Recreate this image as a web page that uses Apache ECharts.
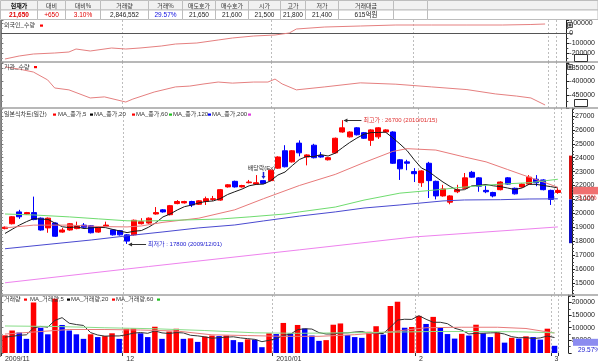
<!DOCTYPE html>
<html>
<head>
<meta charset="utf-8">
<script src="https://cdn.jsdelivr.net/npm/echarts@6.0.0/dist/echarts.min.js"></script>
<style>
html,body{margin:0;padding:0;background:#ffffff;overflow:hidden}
#chart{width:598px;height:363px}
</style>
</head>
<body>
<div id="chart"></div>
<script>
// ---------------- data ----------------
const dates = ['2009/11/06','2009/11/09','2009/11/10','2009/11/11','2009/11/12','2009/11/13','2009/11/16','2009/11/17','2009/11/18','2009/11/19','2009/11/20','2009/11/23','2009/11/24','2009/11/25','2009/11/26','2009/11/27','2009/11/30',
'2009/12/01','2009/12/02','2009/12/03','2009/12/04','2009/12/07','2009/12/08','2009/12/09','2009/12/10','2009/12/11','2009/12/14','2009/12/15','2009/12/16','2009/12/17','2009/12/18','2009/12/21','2009/12/22','2009/12/23','2009/12/24','2009/12/28','2009/12/29','2009/12/30',
'2010/01/04','2010/01/05','2010/01/06','2010/01/07','2010/01/08','2010/01/11','2010/01/12','2010/01/13','2010/01/14','2010/01/15','2010/01/18','2010/01/19','2010/01/20','2010/01/21','2010/01/22','2010/01/25','2010/01/26','2010/01/27','2010/01/28','2010/01/29',
'2010/02/01','2010/02/02','2010/02/03','2010/02/04','2010/02/05','2010/02/08','2010/02/09','2010/02/10','2010/02/11','2010/02/12','2010/02/16','2010/02/17','2010/02/18','2010/02/19','2010/02/22','2010/02/23','2010/02/24','2010/02/25','2010/02/26',
'2010/03/02'];
const openP  = [18900,19250,20100,19950,20050,19650,18950,19300,18650,18800,18900,19150,19100,18650,19050,18800,18750,18450,18450,19250,19300,19950,20250,19900,20700,20750,20850,20650,20850,21000,20950,21900,22300,21900,22200,22100,22350,22350,23250,24500,23700,25050,24050,24900,24150,23850,24350,25850,25500,26150,25800,25250,25500,25850,25850,23850,23700,23000,22200,23600,22300,21250,20800,21550,21800,22950,22550,21650,21500,21700,22550,21800,21900,22100,22450,22400,21650,21500];
const highP  = [19050,19800,20250,20100,21200,19700,19700,19350,18950,19300,19400,19300,19150,19050,19400,18850,18800,18500,19550,19650,19700,20450,20300,20600,20950,20900,20900,20950,21200,21250,21750,22100,22350,22050,22400,22750,22400,23150,24100,24900,24550,25250,24250,25000,24400,24050,25450,26700,25900,26200,25850,26050,26200,26050,25900,23900,23850,23250,23100,23700,22350,22050,21300,22050,22900,23050,22600,22000,21550,22300,22600,21850,22150,22750,22750,22450,21700,21800];
const lowP   = [18850,19200,19600,19900,19500,18750,18600,18300,18600,18750,18850,18950,18550,18600,19000,18400,18400,17800,18400,19200,19250,19900,20050,19850,20650,20700,20450,20600,20600,20900,20900,21850,21850,21850,22150,22050,22100,22300,23200,23300,23650,24100,23450,23950,24000,23800,24300,25800,25450,25600,25350,24850,25350,25800,23550,22400,23100,22250,21900,21100,21000,21200,20650,21450,21750,22550,21550,21450,21150,21650,22050,21350,21850,22050,21950,21650,20600,21400];
const closeP = [19000,19750,19750,20050,19550,18800,19650,18350,18800,19250,19100,19000,18600,19000,19150,18450,18450,18000,19500,19400,19650,20050,20100,20550,20850,20850,20600,20900,21050,21050,21700,22050,21900,22000,22250,22200,22150,23100,24050,23350,24500,24350,24200,24000,24050,24000,25400,26150,25850,25650,25400,26000,26150,26000,23600,23200,23600,22850,23050,22350,21250,21750,21250,21700,22550,22600,21950,21550,21250,22250,22100,21400,22100,22600,22200,21700,21000,21650];
const ma5 = [18550,18850,19150,19400,19620,19580,19560,19280,19030,18970,19030,18900,18950,18990,18970,18840,18730,18610,18710,18760,19000,19320,19740,19950,20240,20480,20590,20750,20850,20890,21060,21350,21550,21740,21980,22080,22100,22340,22750,22970,23430,23870,24090,24080,24220,24120,24330,24720,25090,25410,25690,25810,25810,25840,25430,24990,24510,23850,23260,23010,22620,22250,21930,21660,21700,21970,22010,22070,21980,21920,21820,21710,21820,22090,22080,22000,21920,21830];
const ma20  = [[0,18950],[4,19150],[9,19150],[13,19050],[17,19020],[19,19090],[22,19350],[27,19650],[32,20250],[36,21050],[41,22000],[46,22800],[50,23650],[54,24450],[56,24650],[60,24550],[64,24050],[67,23700],[70,23150],[73,22600],[75,22250],[77,21870]];
const ma60  = [[0,19950],[4,19880],[9,19740],[13,19600],[17,19460],[20,19450],[25,19520],[30,19590],[34,19740],[39,19950],[41,20100],[46,20450],[50,20950],[55,21450],[60,21680],[64,21890],[69,22100],[73,22200],[77,22450]];
const ma120 = [[0,17450],[12,18080],[18,18440],[22,18660],[27,18950],[32,19160],[36,19450],[41,19800],[46,20100],[50,20380],[55,20600],[61,20890],[64,20960],[69,20980],[73,21030],[77,21040]];
const ma200 = [[0,15000],[20,16170],[41,17370],[57,18300],[71,18800],[77,19020]];
const volume = [7000000,8900000,8100000,5600000,20000000,10000000,7400000,21500000,11100000,8900000,
 7400000,5600000,7400000,6300000,6700000,7800000,5600000,9600000,9700000,7800000,
 6300000,10400000,5600000,8500000,9600000,5600000,5800000,4400000,6500000,6900000,
 6700000,6900000,5100000,4300000,5400000,5300000,2300000,7800000,7500000,11900000,
 7800000,11100000,9700000,6900000,4800000,5100000,11200000,11700000,7100000,6300000,
 6000000,8400000,10600000,7300000,18600000,20300000,10000000,10300000,14700000,11500000,
 14300000,10000000,7500000,5700000,7600000,6900000,11200000,7800000,6300000,8100000,
 4100000,6000000,5700000,6600000,6300000,5300000,9626000,2846552];
const volMa5 = [6300000,6600000,7000000,7200000,9920000,10520000,10220000,12900000,14000000,11780000,11260000,10900000,8080000,7120000,6680000,6760000,6760000,7200000,7880000,8100000,7800000,8760000,7960000,7720000,8080000,7940000,7020000,6780000,6380000,5840000,6060000,6280000,6420000,5980000,5680000,5400000,4480000,5020000,5660000,6960000,7460000,9220000,9600000,9480000,8060000,7520000,7540000,7940000,7980000,8280000,8460000,7900000,7680000,7720000,10180000,13040000,13360000,13300000,14780000,13360000,12160000,12160000,11600000,9800000,9020000,7540000,7780000,7840000,7960000,8060000,7500000,6460000,6040000,6100000,5740000,5980000,6700000,6130000];
const volMa20 = [[0,7500000],[4,8300000],[9,9300000],[14,9300000],[19,9100000],[24,8700000],[29,7200000],[34,6900000],[39,6600000],[44,6600000],[49,7250000],[54,8400000],[59,10000000],[64,10200000],[69,10200000],[73,9700000],[77,7900000]];
const volMa60 = [[0,10700000],[7,10500000],[14,10000000],[21,9600000],[28,8900000],[35,8000000],[41,7800000],[48,8000000],[55,8300000],[60,8500000],[66,8500000],[72,8400000],[77,8000000]];
const foreignQty = [[0,-260000],[2,-230000],[4,-210000],[7,-200000],[9,-190000],[10,-160000],[12,-180000],[15,-150000],[17,-160000],[19,-150000],[22,-130000],[24,-110000],[27,-100000],[30,-70000],[32,-50000],[35,-30000],[38,-20000],[40,0],[41,40000],[45,60000],[50,70000],[55,80000],[60,80000],[65,80000],[70,80000],[74,85000],[76,90000]];
const instQty = [[0,-346000],[2,-354000],[4,-365000],[6,-394000],[7,-424000],[9,-431000],[12,-461000],[14,-457000],[17,-476000],[18,-465000],[21,-439000],[24,-420000],[26,-417000],[28,-409000],[30,-402000],[32,-406000],[35,-402000],[37,-402000],[38,-391000],[39,-409000],[41,-431000],[45,-420000],[50,-405000],[55,-410000],[60,-420000],[65,-430000],[69,-446000],[72,-454000],[74,-461000],[76,-487000]];
const monthTickIdx  = [0,17,38,58,77];
const monthTickText = ['2009/11','12','2010/01','2','3'];
const quoteHeads = ['현재가','대비','대비%','거래량','거래%','매도호가','매수호가','시가','고가','저가','거래대금','',''];
const quoteVals  = ['21,650','+650','3.10%','2,846,552','29.57%','21,650','21,600','21,500','21,800','21,400','615억원','',''];
const quoteColors = ['#e00000','#e00000','#e00000','#222222','#1010e0','#222222','#222222','#222222','#222222','#222222','#222222','#222222','#222222'];
const prevClose = 21000, upperLimit = 24150, lowerLimit = 17850;
const lastPrice = 21650, lastPriceText = '21,650', lastPctText = '3.10%';
const lastVol = 2846552, lastVolText = '2,846K', lastVolPctText = '29.57%';
const highIdx = 47, highVal = 26700, highText = '최고가 : 26700 (2010/01/15)';
const lowIdx = 17, lowVal = 17800, lowText = '최저가 : 17800 (2009/12/01)';
const exDivIdx = 36, exDivVal = 22400, exDivText = '배당락(Ex)';

// ---------------- layout / style ----------------
const FONT = '"Liberation Sans", "Noto Sans CJK KR", sans-serif';
const KFONT = '"Noto Sans CJK KR", "Liberation Sans", sans-serif';
const UP = '#ff0000', DOWN = '#0000ff';
const GL = 1.41, GW = 560.04;           // grid left / width (78 categories)
const AXX = 572;                         // right axis line x
const OFF = AXX - (GL + GW);

const chart = echarts.init(document.getElementById('chart'), null, {renderer: 'canvas', width: 598, height: 363});

const isMonth = (i) => monthTickIdx.indexOf(i) >= 0;
function xAxisFor(gi, showLabel) {
  return {
    type: 'category', gridIndex: gi, data: dates, boundaryGap: true,
    axisLine: {show: false},
    axisTick: {show: showLabel, interval: (i) => isMonth(i), length: 3, lineStyle: {color: '#333'}},
    axisLabel: {show: showLabel, interval: (i) => isMonth(i), align: 'left', margin: 3, fontSize: 7, color: '#333', fontFamily: FONT,
      formatter: (v, i) => { const k = monthTickIdx.indexOf(i); return k >= 0 ? monthTickText[k] : ''; }},
    splitLine: {show: true, interval: (i) => isMonth(i) && i > 0, lineStyle: {color: '#bdbdbd', width: 1, type: [2, 2]}}
  };
}
function yRight(gi, min, max, interval, okFn, minorSplit, fmt) {
  return {
    type: 'value', gridIndex: gi, position: 'right', offset: OFF, min: min, max: max, interval: interval,
    axisLine: {show: true, lineStyle: {color: '#222', width: 1}},
    axisTick: {show: true, length: 3, lineStyle: {color: '#222'}},
    minorTick: {show: true, splitNumber: minorSplit, length: 2, lineStyle: {color: '#444'}},
    axisLabel: {show: true, fontSize: 7, color: '#222', margin: 3, fontFamily: FONT,
      formatter: (v) => okFn(v) ? (fmt ? fmt(v) : String(v)) : ''},
    splitLine: {show: false}
  };
}
function yLeft(gi, min, max, interval, minorSplit) {
  return {
    type: 'value', gridIndex: gi, position: 'left', min: min, max: max, interval: interval,
    axisLine: {show: true, lineStyle: {color: '#777', width: 1}},
    axisTick: {show: true, inside: true, length: 2, lineStyle: {color: '#777'}},
    minorTick: {show: true, splitNumber: minorSplit, length: 1.5, lineStyle: {color: '#999'}},
    axisLabel: {show: false}, splitLine: {show: false}
  };
}

const candleData = dates.map((d, i) => [openP[i], closeP[i], lowP[i], highP[i]]);
const lineS = (data, xi, color, w) => ({
  type: 'line', xAxisIndex: xi, yAxisIndex: xi, data: data, symbol: 'none', connectNulls: true,
  lineStyle: {color: color, width: w || 1}, itemStyle: {color: color}, z: 5, silent: true, animation: false
});

const option = {
  animation: false,
  backgroundColor: '#ffffff',
  textStyle: {fontFamily: FONT},
  grid: [
    {left: GL, width: GW, top: 20, height: 43},
    {left: GL, width: GW, top: 62, height: 46.5},
    {left: GL, width: GW, top: 108, height: 188.7},
    {left: GL, width: GW, top: 295, height: 62}
  ],
  xAxis: [xAxisFor(0, false), xAxisFor(1, false), xAxisFor(2, false), xAxisFor(3, true)],
  yAxis: [
    yRight(0, -300000, 130000, 100000, (v) => [100000, 0, -100000, -200000].indexOf(v) >= 0, 2),
    yRight(1, -500000, -327800, 50000, (v) => [-350000, -400000, -450000].indexOf(v) >= 0, 2),
    yRight(2, 14000, 27576, 1000, (v) => v % 1000 === 0 && v >= 15000 && v <= 27000, 4),
    yRight(3, 0, 22962963, 5000000, (v) => v > 0 && v % 5000000 === 0, 2, (v) => String(v / 100)),
    yLeft(0, -300000, 130000, 100000, 2),
    yLeft(1, -500000, -327800, 50000, 2),
    yLeft(2, 14000, 27576, 1000, 4),
    yLeft(3, 0, 22962963, 5000000, 2)
  ],
  series: [
    {type: 'candlestick', xAxisIndex: 2, yAxisIndex: 2, data: candleData, barWidth: 5.5, z: 3,
      itemStyle: {color: UP, color0: DOWN, borderColor: UP, borderColor0: DOWN, borderWidth: 1}, silent: true},
    lineS(ma5, 2, '#1a1a1a'),
    lineS(ma20, 2, '#e87a7a'),
    lineS(ma60, 2, '#6fdc6f'),
    lineS(ma120, 2, '#4a4ad0'),
    lineS(ma200, 2, '#ee82ee'),
    {type: 'bar', xAxisIndex: 3, yAxisIndex: 3, data: volume, barWidth: 5.5, z: 3, silent: true,
      itemStyle: {color: (p) => (p.dataIndex === 0 || volume[p.dataIndex] >= volume[p.dataIndex - 1]) ? UP : DOWN}},
    lineS(volMa5, 3, '#333333'),
    lineS(volMa20, 3, '#e87a7a'),
    lineS(volMa60, 3, '#88dd88'),
    lineS(foreignQty, 0, '#e58080'),
    lineS(instQty, 1, '#e58080')
  ]
};
chart.setOption(option);

// ---------------- decorations built from the axes ----------------
const P = (g, x, y) => chart.convertToPixel({xAxisIndex: g, yAxisIndex: g}, [x, y]);
function txt(x, y, text, color, size, align, family, weight) {
  return {type: 'text', x: x, y: y, z: 60, silent: true,
    style: {text: text, fill: color, fontSize: size, fontFamily: family || FONT, fontWeight: weight || 'normal',
      align: align || 'left', verticalAlign: 'middle', textAlign: align || 'left', textVerticalAlign: 'middle'}};
}
function rect(x, y, w, h, fill, stroke, lw, z) {
  return {type: 'rect', z: z || 50, silent: true, shape: {x: x, y: y, width: w, height: h},
    style: {fill: fill || 'none', stroke: stroke || 'none', lineWidth: lw || 1}};
}
function seg(x1, y1, x2, y2, color, lw, z) {
  return {type: 'line', z: z || 55, silent: true, shape: {x1: x1, y1: y1, x2: x2, y2: y2}, style: {stroke: color, lineWidth: lw || 1}};
}
function tri(points, fill) { return {type: 'polygon', z: 56, silent: true, shape: {points: points}, style: {fill: fill}}; }

const G = [];
// quote table
const colEdges = [0, 37, 65, 100, 148, 182, 215, 248, 280, 305, 338, 393, 427, 597.5];
for (let i = 0; i < quoteHeads.length; i++) {
  const x0 = colEdges[i] + 0.5, w = colEdges[i + 1] - colEdges[i];
  G.push(rect(x0, 0.5, w, 9.5, '#f1f1f1', '#bdbdbd', 1, 40));
  G.push(rect(x0, 10, w, 9.5, '#ffffff', '#bdbdbd', 1, 40));
  const cx = x0 + w / 2;
  if (quoteHeads[i]) G.push(txt(cx, 5.5, quoteHeads[i], i === 0 ? '#000' : '#333', 6, 'center', KFONT, i === 0 ? 'bold' : 'normal'));
  if (quoteVals[i]) G.push(txt(cx, 15.2, quoteVals[i], quoteColors[i], 6.5, 'center', FONT, i === 0 ? 'bold' : 'normal'));
}
// panel separators and frame
[62, 108, 295].forEach((y) => G.push(seg(0, y, 598, y, '#a0a0a0', 1.5, 58)));
G.push(seg(0.5, 20, 0.5, 357, '#8a8a8a', 1, 58));
// foreign zero line
const z0 = P(0, 0, 0)[1];
G.push(seg(0, Math.round(z0) + 0.5, AXX, Math.round(z0) + 0.5, '#555', 1, 4));

// panel legends
function legend(y, items) {
  items.forEach((it) => {
    if (it.t) G.push(txt(it.x, y, it.t, '#333', 6, 'left', FONT));
    else G.push(rect(it.x, y - 1, 3, 2.2, it.c, 'none', 1, 61));
  });
}
legend(25.5, [{x: 4, t: '외국인_수량'}, {x: 40, c: UP}]);
legend(67, [{x: 4, t: '기관_수량'}, {x: 34, c: UP}]);
legend(114.5, [{x: 4, t: '일본식차트(일간)'}, {x: 53, c: UP}, {x: 58, t: 'MA_종가,5'}, {x: 90, c: '#000'},
  {x: 94, t: 'MA_종가,20'}, {x: 132, c: UP}, {x: 136, t: 'MA_종가,60'}, {x: 169, c: '#20c020'},
  {x: 173, t: 'MA_종가,120'}, {x: 208, c: DOWN}, {x: 212, t: 'MA_종가,200'}, {x: 248, c: '#e040e0'}]);
legend(299.5, [{x: 4, t: '거래량'}, {x: 24, c: UP}, {x: 30, t: 'MA_거래량,5'}, {x: 67, c: '#000'},
  {x: 71, t: 'MA_거래량,20'}, {x: 112, c: UP}, {x: 116, t: 'MA_거래량,60'}, {x: 157, c: '#20c020'}]);

// small panel buttons
[[567, 22], [567, 64]].forEach((p) => {
  G.push(rect(p[0] + 0.5, p[1] + 0.5, 5, 5, '#d4d4d4', '#555', 1, 62));
  G.push(seg(p[0] + 1.5, p[1] + 3, p[0] + 4.5, p[1] + 3, '#222', 1, 63));
  G.push(seg(p[0] + 3, p[1] + 1.5, p[0] + 3, p[1] + 4.5, '#222', 1, 63));
});
[[574, 54.5], [574, 99.5]].forEach((p) => {
  G.push(rect(p[0] + 0.5, p[1], 13, 7, '#ffffff', '#333', 1, 62));
  G.push(txt(p[0] + 7, p[1] + 3.7, 'F100', '#222', 5, 'center', FONT));
});

// high / low annotations
const hp = P(2, highIdx, highVal);
G.push(seg(hp[0] + 2, Math.round(hp[1]) + 0.5, hp[0] + 19, Math.round(hp[1]) + 0.5, '#333', 1));
G.push(tri([[hp[0] + 1, Math.round(hp[1]) + 0.5], [hp[0] + 5, Math.round(hp[1]) - 1.5], [hp[0] + 5, Math.round(hp[1]) + 2.5]], '#333'));
G.push(txt(hp[0] + 21, hp[1] + 0.5, highText, '#e03030', 6, 'left', FONT));
const lp = P(2, lowIdx, lowVal);
G.push(seg(lp[0] + 2, Math.round(lp[1]) + 0.5, lp[0] + 19, Math.round(lp[1]) + 0.5, '#333', 1));
G.push(tri([[lp[0] + 1, Math.round(lp[1]) + 0.5], [lp[0] + 5, Math.round(lp[1]) - 1.5], [lp[0] + 5, Math.round(lp[1]) + 2.5]], '#333'));
G.push(txt(lp[0] + 21, lp[1] + 0.5, lowText, '#2020d0', 6, 'left', FONT));
// ex-dividend marker
const ep = P(2, exDivIdx, exDivVal);
G.push(txt(ep[0] - 2, ep[1] - 12, exDivText, '#333', 6, 'center', FONT));
G.push(seg(ep[0], ep[1] - 8, ep[0], ep[1] - 3, '#2020d0', 1.5));
G.push(tri([[ep[0] - 2, ep[1] - 4], [ep[0] + 2, ep[1] - 4], [ep[0], ep[1] - 1]], '#2020d0'));

// price-limit bar on the right axis
const yU = P(2, 0, upperLimit)[1], yP = P(2, 0, prevClose)[1], yD = P(2, 0, lowerLimit)[1];
G.push(rect(569, yU, 3, yP - yU, '#d01010', 'none', 1, 57));
G.push(rect(569, yP, 3, yD - yP, '#1010c0', 'none', 1, 57));
// last price tag
const yLast = P(2, 0, lastPrice)[1];
G.push(rect(573, yLast - 3.5, 25, 7.5, '#f07070', 'none', 1, 62));
G.push(txt(585.5, yLast + 0.3, lastPriceText, '#ffffff', 6.5, 'center', FONT));
G.push(txt(578, yLast + 7.5, lastPctText, '#e02020', 6.5, 'left', FONT));
// last volume tag
const yV = P(3, 0, lastVol)[1];
G.push(rect(573, yV - 7, 25, 7, '#8c8cf0', 'none', 1, 62));
G.push(txt(585.5, yV - 3.3, lastVolText, '#ffffff', 6.5, 'center', FONT));
G.push(txt(578, yV + 4.5, lastVolPctText, '#2020d0', 6.5, 'left', FONT));

chart.setOption({graphic: {elements: G}});
</script>
</body>
</html>
